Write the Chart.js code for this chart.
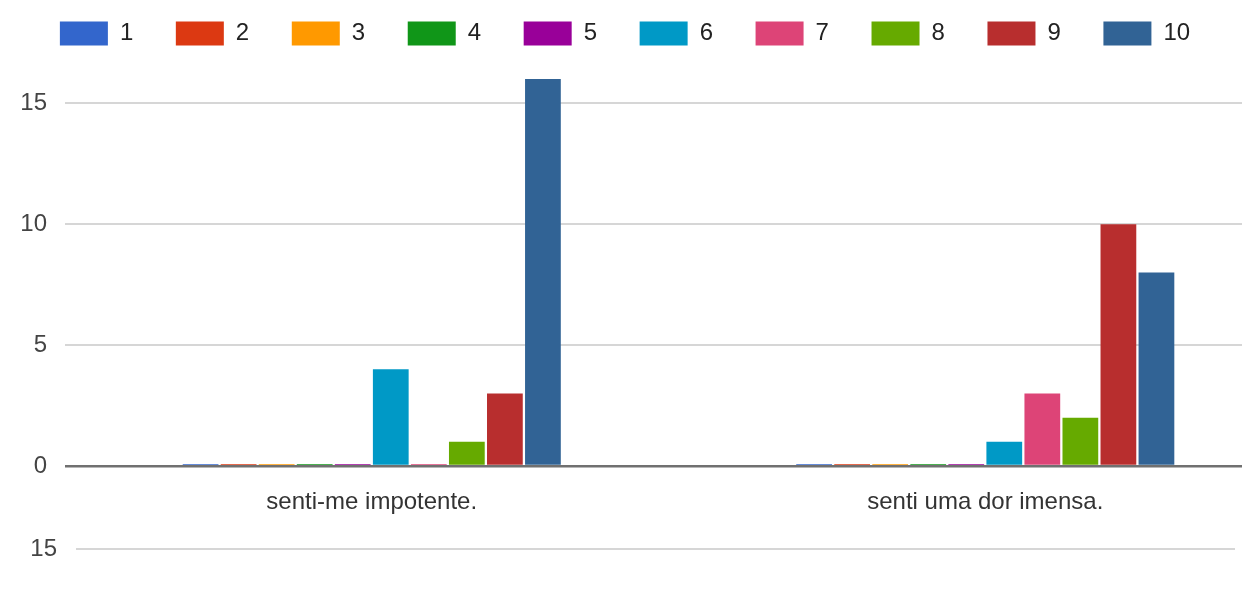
<!DOCTYPE html>
<html>
<head>
<meta charset="utf-8">
<script src="https://cdn.jsdelivr.net/npm/chart.js@4"></script>
<style>
  html, body { margin: 0; padding: 0; background: #fff; }
  #wrap { position: relative; width: 1247px; height: 589px; overflow: hidden; }
  #mainBox { position: absolute; left: 0; top: 0; width: 1247px; height: 530px; }
  #nextBox { position: absolute; left: 0; top: 516px; width: 1247px; height: 300px; }
</style>
</head>
<body>
<div id="wrap">
  <div id="mainBox"><canvas id="mainChart"></canvas></div>
  <div id="nextBox"><canvas id="nextChart"></canvas></div>
</div>
<script>
var categories = ['senti-me impotente.', 'senti uma dor imensa.'];
var scoreLabels = ['1', '2', '3', '4', '5', '6', '7', '8', '9', '10'];
var scoreColors = ['#3366cc', '#dc3912', '#ff9900', '#109618', '#990099',
                   '#0099c6', '#dd4477', '#66aa00', '#b82e2e', '#316395'];

// answers per score, one value per category
var score1 = [0, 0];
var score2 = [0, 0];
var score3 = [0, 0];
var score4 = [0, 0];
var score5 = [0, 0];
var score6 = [4, 1];
var score7 = [0, 3];
var score8 = [1, 2];
var score9 = [3, 10];
var score10 = [16, 8];

var yTicks = [0, 5, 10, 15];
var nextTicks = [0, 5, 10, 15];

Chart.defaults.font.family = '"Liberation Sans", Arial, sans-serif';

var allScores = [score1, score2, score3, score4, score5, score6, score7, score8, score9, score10];
var datasets = allScores.map(function (values, i) {
    return {
        label: scoreLabels[i],
        data: values,
        backgroundColor: scoreColors[i],
        borderWidth: 0
    };
});

function gridColor(ctx) {
    return ctx.tick && ctx.tick.value === 0 ? '#707070' : '#d6d6d6';
}
function gridWidth(ctx) {
    return ctx.tick && ctx.tick.value === 0 ? 2.5 : 2;
}

// spread the two groups wider than the plot, the right one sits left of its slot centre
var stretchX = {
    id: 'stretchX',
    afterLayout: function (chart) {
        var x = chart.scales.x;
        var len = chart.chartArea.width * 1.0425;
        x.right = x.left + len;
        x.width = len;
        x.configure();
    }
};

new Chart(document.getElementById('mainChart'), {
    type: 'bar',
    data: {labels: categories, datasets: datasets},
    options: {
        responsive: true,
        maintainAspectRatio: false,
        animation: false,
        layout: {padding: {top: -21, left: 8, right: 5, bottom: 13}},
        datasets: {bar: {categoryPercentage: 0.62, barPercentage: 0.94, minBarLength: 2}},
        plugins: {
            legend: {
                position: 'top',
                labels: {boxWidth: 48, boxHeight: 24, padding: 42.6, color: '#222', font: {size: 24}}
            },
            tooltip: {enabled: false}
        },
        scales: {
            x: {
                grid: {display: false, drawTicks: false},
                border: {display: false},
                ticks: {color: '#333', font: {size: 24}, padding: 22},
                afterFit: function (s) { s.height = 51; }
            },
            y: {
                min: 0,
                max: 16.97,
                afterBuildTicks: function (s) {
                    s.ticks = yTicks.map(function (v) { return {value: v}; });
                },
                afterFit: function (s) { s.width = 57; },
                grid: {color: gridColor, lineWidth: gridWidth, drawTicks: false},
                border: {display: false},
                ticks: {color: '#444', font: {size: 24}, padding: 18}
            }
        }
    },
    plugins: [stretchX]
});

// top of the following chart, cut off by the page edge
new Chart(document.getElementById('nextChart'), {
    type: 'bar',
    data: {labels: categories, datasets: []},
    options: {
        responsive: true,
        maintainAspectRatio: false,
        animation: false,
        layout: {padding: {top: 10, left: 30, right: 12, bottom: 0}},
        plugins: {legend: {display: false}, tooltip: {enabled: false}},
        scales: {
            x: {display: false},
            y: {
                min: 0,
                max: 15,
                afterBuildTicks: function (s) {
                    s.ticks = nextTicks.map(function (v) { return {value: v}; });
                },
                afterFit: function (s) { s.width = 46; },
                grid: {color: gridColor, lineWidth: gridWidth, drawTicks: false},
                border: {display: false},
                ticks: {color: '#444', font: {size: 24}, padding: 19}
            }
        }
    }
});
</script>
</body>
</html>
